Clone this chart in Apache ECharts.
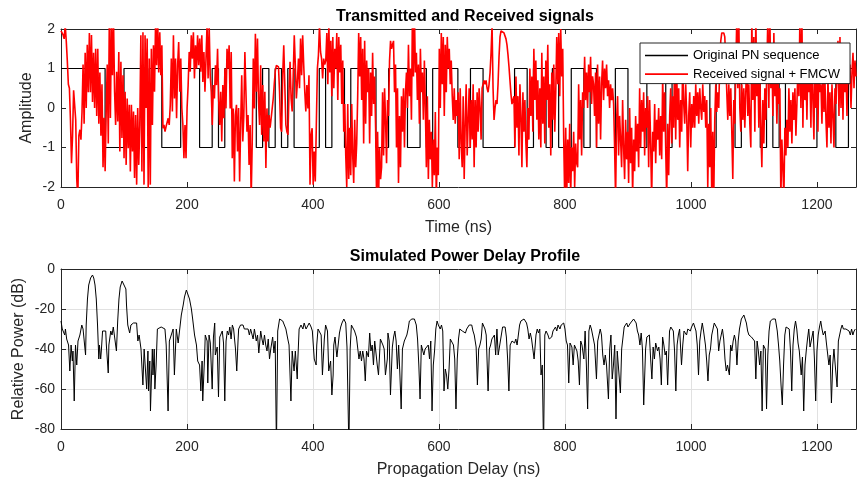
<!DOCTYPE html>
<html><head><meta charset="utf-8">
<script src="https://cdn.jsdelivr.net/npm/echarts@6/dist/echarts.min.js"></script>
<style>html,body{margin:0;padding:0;background:#fff}#c{width:859px;height:479px}</style>
</head><body><div id="c"></div><script>
// ---------------- data ----------------
const T_MAX = 1262;
const xTicks = [0, 200, 400, 600, 800, 1000, 1200];
const ampTicks = [-2, -1, 0, 1, 2];
const dbTicks = [-80, -60, -40, -20, 0];

// PN sequence: switching instants (ns) and the level held in each interval
const pnTimes = [0,70,100,130,140,160,190,220,240,250,260,310,320,330,340,350,360,370,410,420,
  430,450,460,500,520,550,570,580,590,630,650,670,720,740,750,770,780,790,810,830,
  840,850,880,900,930,960,970,1030,1040,1070,1080,1110,1120,1130,1140,1150,1200,1230,1250,1262];
const pnLevels = [1,-1,1,-1,1,-1,1,-1,1,-1,1,-1,1,-1,1,-1,1,-1,1,-1,
  1,-1,1,-1,1,-1,1,-1,1,-1,1,-1,1,-1,1,-1,1,-1,1,-1,
  1,-1,1,-1,1,-1,1,-1,1,-1,1,-1,1,-1,1,-1,1,-1,1];

// received signal, read in three stretches (values sampled evenly over each stretch)
const redSpans = [[0, 422], [422, 847], [847, 1262]];
const redSeg1 = [1.95,1.92,1.85,1.75,2.1,1.7,1.2,0.6,0.5,-0.3,-1.4,-0.7,0.45,0.4,-0.3,-1.8,-2.3,-0.7,-0.55,-0.8,-0.1,1.1,-0.4,1.4,0,1.6,0.4,1.9,0.4,1.85,0.15,1.4,0,1.5,-0.2,1.5,-0.4,0.9,-0.7,0.6,-1.5,-0.25,-1.6,-0.1,1.1,-0.9,2.3,-0.25,2.3,0.83,2.2,0.41,-0.43,0.92,-0.34,1.42,-1.1,1.17,-0.76,0.83,-1.27,0.41,-1.44,0.24,-1.02,0.08,-1.61,0.08,-1.1,-0.09,-1.77,-0.18,-1.94,0,-1.44,-0.43,1.84,-1.61,1.92,-1.94,1.84,0,1.76,-2.1,1.25,-1.94,1.5,-0.43,1.59,0.41,2.2,1.08,2.2,0.9,1.92,0.83,1.59,-0.51,-0.43,-0.6,-0.47,-0.51,-0.26,-0.43,0.08,1.25,-0.09,1.84,0.24,1.25,-0.26,1.08,1.67,0.41,1.25,0,-0.43,-1.27,-0.43,-1.27,0,0.58,1.42,0.92,1.84,1.25,1.92,0.75,1.59,1.0,1.84,1.08,1.76,0.92,1.84,0.66,1.42,0.41,1.25,2.1,0.75,2.1,0.83,0.41,-0.43,0.58,0.24,1.08,0.58,1.5,0.24,-0.43,0.41,-0.85,0.58,-0.26,1.0,-0.01,1.5,1.0,1.59,-0.01,1.42,-1.27,-0.01,-1.86,-0.18,0.08,-1.1,0.0,-1.86,-0.43,0.83,-0.85,-0.18,1.42,0.41,-0.6,-0.18,-1.44,-0.43,-2.3,-0.85,1.25,-0.01,1.88,0.41,1.76,0.16,-0.43,1.08,-0.68,0.58,-0.85,0.41,-1.52,-0.01,-0.85,-0.18,-0.5,-0.26,-0.3,0.24,0.62,0.95,1.08,1.1,1.04,0.41,-0.51,-0.6,0.83,1.59,0.58,-0.43,-0.6,-0.68,0.41,1.17,0.24,-0.09,0.83,1.84,1.08,0.24,0.66,1.25,0.5,1.76,0.83,1.84,1.08,0.41,-0.09,0.58,-0.01,0.83,-1.94,-0.68,-0.51,-1.94,-1.1,-1.86,-0.43,1.0,1.34,2.1,1.42,1.25,0.75,1.25,1.1,1.2];
const redSeg2 = [1.9,0.6,2.1,0.9,1.7,0.3,1.8,0.5,1.5,1.0,1.9,0.2,1.8,0.9,1.6,0.1,1.2,-0.6,0.1,-1.2,
  -2.0,0.1,-1.8,-0.5,-1.7,0.1,-1.2,-1.9,-0.3,-1.5,-0.9,0.3,
  1.9,0.8,1.8,0.2,1.5,
  -0.9,1.7,-0.4,1.2,0.4,1.0,-0.9,0.9,-0.2,1.4,0.1,0.8,-0.5,
  -2.3,-0.6,-2.3,-1.0,-1.8,
  -1.5,0.4,-1.2,0.5,-0.3,-1.4,0.2,-0.2,
  1.2,1.7,1.5,1.6,1.7,0.4,1.1,
  -1.0,0.5,-1.9,-0.2,-1.5,0.3,-0.6,0.5,-1.0,0.4,
  0.9,0.0,1.6,0.3,1.0,-0.3,2.4,0.8,2.4,0.9,1.4,0.2,1.1,
  -0.4,1.5,0.4,0.9,-0.3,1.2,0.0,
  -1.5,0.3,-1.8,-0.3,-1.3,-0.6,-2.0,-0.8,-1.7,-0.1,-2.3,-1.0,-1.7,
  1.5,0.0,1.9,0.6,1.8,-0.2,1.6,0.4,1.8,1.0,1.5,0.6,1.2,
  0.3,-0.3,0.5,-0.4,0.2,-0.2,0.4,
  -1.3,0.5,-0.9,-1.5,0.3,-1.8,-0.4,0.6,-1.2,-0.3,0.5,-1.0,0.2,
  -0.8,0.6,-1.5,0.2,-1.0,0.4,-0.6,0.5,0.0,-0.8,0.5,0.6,0.7,
  0.6,0.7,0.5,0.4,0.6,0.9,1.4,2.1,
  0.5,-0.3,0.0,0.2,0.1,0.6,1.3,1.8,1.95,1.97,1.95,1.9,1.85,1.75,1.6,1.35,1.05,0.7,0.35,0.1,0.05,0.3,
  -1.0,0.8,-0.5,0.3,-1.2,0.6,-0.2,-1.5,0.4,-0.6,0.2,-0.9,-1.5,
  0.0,-0.8,1.0,-0.2,0.8,-0.6,1.5,0.2,1.2,-0.3,0.7,-0.8,0.5,
  -1.0,1.4,-0.4,0.8,-0.9,1.2,0.2,1.6,-0.5,0.6,-1.2,0.9,-0.3,1.1,-0.6,0.4,1.8,
  0.6,1.9,0.3,2.0,0.8,1.5,-0.8,
  -2.3,-0.5,-2.3,-0.8,-1.9,-0.4,-2.2,-1.0,-1.6,-0.6,-2.0,-0.9,-1.4,
  -1.5,0.6,-0.8,0.2,-1.2,0.4,0.0,
  1.3,0.2,0.9,0.0,1.1,0.4,1.3,0.1,0.8,0.6];
const redSeg3 = [-0.2,0.9,-1.0,1.1,-0.4,0.8,-0.8,0.6,1.2,0.2,
  1.0,0.5,1.1,
  0.3,0.7,0.0,0.6,0.2,0.5,0.1,
  -1.0,-2.3,-0.3,0.3,-1.2,-0.2,-0.8,
  -1.5,0.2,-1.0,-1.8,-0.3,-1.3,-0.6,-1.9,0.0,-1.4,-0.5,-2.2,-0.8,-1.6,-0.2,-1.1,-0.4,
  -1.5,0.5,-1.0,0.2,-0.6,0.4,-1.2,0.0,-0.5,0.3,
  -1.5,0.2,-0.9,-2.3,-0.6,-1.1,0.1,-1.4,-0.3,-0.8,0.0,-1.2,-0.2,
  -1.3,0.8,-0.6,0.4,-1.0,-2.3,-0.4,-1.7,-0.2,0.5,-0.9,0.3,-0.5,
  1.5,-0.8,0.9,-0.3,0.5,-1.0,0.2,-0.6,1.2,0.1,-0.4,0.6,-0.2,
  -1.6,-0.2,0.4,-1.0,0.1,-0.5,0.3,
  -0.5,0.6,-0.2,0.4,-0.4,0.5,0.0,-0.3,0.6,-0.1,0.3,-0.5,0.2,
  -2.0,-0.4,-1.5,0.0,-2.3,-0.6,-2.3,
  -0.3,0.6,-0.1,0.4,0.0,1.2,1.7,1.9,
  1.95,1.9,1.8,1.2,0.4,-0.3,0.6,-0.2,
  0.5,-0.6,-1.8,0.2,-0.4,1.0,2.3,0.5,2.3,0.0,
  -0.6,0.6,-0.3,0.5,-0.5,0.4,1.5,-0.2,0.6,-0.4,
  -1.0,2.3,0.2,1.8,-0.6,2.3,0.3,1.2,-0.5,0.8,
  -0.5,-1.5,0.2,-0.9,0.5,-0.3,1.0,
  2.3,0.0,2.3,0.5,1.5,-0.2,1.9,0.3,1.0,-0.4,0.8,0.1,0.5,
  -2.3,-0.8,-1.5,-2.3,-0.5,-1.2,-0.3,
  -1.0,0.5,-0.6,0.2,-0.9,0.4,-0.3,0.5,-0.7,0.1,1.0,0.3,2.3,
  0.0,2.3,-0.5,1.5,0.2,1.0,-0.3,1.2,0.4,0.8,-0.5,1.4,0.2,
  -0.8,1.5,0.0,0.9,-0.6,1.2,0.4,0.6,-0.4,1.0,-0.1,0.7,-0.3,
  -1.0,0.8,-0.5,0.4,-0.9,0.6,-0.2,-1.0,0.5,0.1,0.9,1.7,-0.2,
  1.8,0.0,1.2,-0.3,1.6,0.4,1.0,-0.2,1.3,0.6,1.1,0.0,0.9,1.4,0.5,1.2,0.8];

// power delay profile: [delay ns, relative power dB]
const pdpProfile = [[0,-26],[2,-30],[4,-31],[5,-30],[6,-33],[7,-30],[9,-35],[10,-35],[12,-38],[14,-51],[16,-38],[18,-46],[19,-41],[21,-66],[23,-38],[25,-48],[27,-36],[30,-33],[33,-28],[35,-30],[38,-31],[39,-43],[40,-28],[42,-15],[44,-8],[47,-4.5],[50,-3],[52,-4.5],[54,-8],[56,-15],[58,-28],[60,-45],[61,-38],[63,-45],[64,-41],[66,-31],[68,-30],[71,-31],[72,-38],[75,-52],[76,-38],[79,-31],[81,-33],[83,-29],[85,-30],[88,-41],[90,-26],[92,-15],[94,-9],[97,-6],[100,-7],[103,-10],[104,-18],[106,-28],[109,-32],[111,-28],[113,-29],[115,-27],[117,-28],[120,-27],[122,-36],[124,-33],[127,-40],[129,-39],[130,-58],[132,-40],[134,-40],[136,-60],[138,-41],[139,-61],[141,-46],[142,-71],[145,-40],[146,-53],[148,-40],[149,-60],[151,-48],[153,-30],[156,-29],[159,-29],[162,-28],[165,-30],[167,-38],[170,-71],[172,-36],[175,-37],[178,-30],[180,-53],[183,-30],[186,-37],[188,-38],[191,-23],[194,-18],[196,-14],[199,-10.5],[202,-11],[204,-15],[207,-20],[209,-25],[212,-33],[215,-38],[217,-46],[220,-48],[222,-61],[224,-46],[225,-66],[228,-43],[229,-33],[232,-36],[233,-57],[235,-33],[237,-37],[240,-60],[242,-34],[244,-27],[245,-43],[248,-39],[250,-64],[252,-34],[254,-35],[256,-31],[258,-37],[260,-66],[262,-36],[264,-31],[266,-33],[268,-29],[270,-35],[272,-28],[274,-30],[277,-40],[279,-51],[281,-36],[282,-30],[285,-28],[287,-29],[289,-28],[291,-30],[294,-30],[297,-30],[299,-33],[301,-30],[303,-31],[305,-35],[307,-30],[310,-36],[312,-33],[314,-42],[317,-31],[319,-35],[321,-38],[323,-33],[325,-38],[327,-41],[329,-35],[331,-45],[333,-40],[336,-34],[338,-42],[340,-36],[342,-90],[344,-31],[347,-25],[349,-25],[352,-26],[355,-27],[357,-30],[360,-35],[362,-38],[365,-66],[367,-41],[369,-48],[370,-51],[372,-41],[375,-55],[376,-45],[378,-30],[381,-28],[384,-30],[386,-27],[389,-30],[391,-29],[394,-27],[397,-29],[399,-31],[402,-45],[405,-48],[406,-38],[408,-30],[411,-31],[413,-33],[415,-53],[418,-35],[420,-28],
[423,-31],[425,-51],[428,-46],[430,-63],[432,-53],[433,-38],[435,-34],[437,-41],[438,-44],[440,-43],[442,-32],[444,-29],[446,-27],[449,-25],[452,-27],[454,-39],[457,-90],[459,-40],[461,-28],[463,-29],[466,-31],[469,-34],[471,-35],[473,-45],[475,-41],[477,-46],[479,-41],[481,-45],[483,-56],[485,-41],[488,-44],[490,-32],[492,-41],[494,-38],[496,-48],[498,-36],[500,-42],[502,-48],[504,-53],[507,-35],[509,-36],[511,-38],[513,-40],[515,-53],[518,-45],[519,-32],[521,-36],[523,-63],[526,-39],[528,-34],[530,-31],[532,-36],[534,-50],[536,-38],[538,-53],[540,-70],[542,-40],[545,-36],[547,-35],[549,-33],[551,-30],[553,-26],[555,-25],[557,-25],[559,-24],[561,-25],[564,-28],[566,-35],[568,-48],[570,-65],[572,-38],[574,-37],[576,-43],[578,-40],[580,-41],[583,-38],[585,-45],[587,-36],[589,-71],[591,-48],[593,-41],[595,-30],[597,-26],[599,-28],[602,-30],[604,-28],[606,-31],[608,-61],[610,-50],[612,-53],[614,-60],[616,-50],[618,-35],[621,-36],[623,-38],[625,-45],[627,-70],[629,-45],[631,-35],[633,-30],[635,-29],[637,-31],[640,-30],[642,-32],[644,-30],[646,-29],[648,-28],[650,-27],[652,-28],[654,-31],[656,-33],[659,-39],[661,-58],[663,-40],[665,-38],[667,-35],[669,-27],[671,-28],[673,-30],[675,-33],[678,-61],[680,-40],[682,-38],[684,-35],[686,-36],[688,-33],[690,-43],[692,-30],[694,-43],[697,-37],[699,-33],[701,-29],[703,-28],[705,-29],[707,-34],[709,-45],[711,-61],[713,-38],[716,-36],[718,-35],[720,-37],[722,-35],[724,-38],[726,-33],[728,-28],[730,-26],[732,-25],[735,-25],[737,-25],[739,-27],[741,-30],[743,-35],[745,-32],[747,-35],[749,-35],[751,-45],[754,-33],[756,-30],[758,-32],[760,-30],[762,-53],[764,-48],[766,-90],[768,-33],[770,-31],[773,-33],[775,-35],[777,-36],[779,-34],[781,-31],[783,-30],[785,-29],[787,-31],[789,-28],[792,-30],[794,-28],[796,-27],[798,-27],[800,-30],[802,-36],[804,-38],[806,-57],[808,-37],[811,-39],[813,-48],[815,-38],[817,-37],[819,-41],[821,-46],[823,-58],[825,-36],[827,-38],[830,-45],[832,-31],[834,-48],[836,-70],[838,-31],[840,-28],[842,-30],
[844,-31],[847,-38],[850,-55],[852,-36],[854,-33],[856,-30],[858,-33],[860,-43],[862,-48],[864,-43],[866,-48],[869,-65],[871,-40],[873,-33],[875,-55],[877,-48],[879,-38],[881,-75],[883,-41],[885,-40],[888,-62],[890,-40],[892,-39],[894,-29],[896,-28],[898,-27],[900,-29],[902,-30],[904,-27],[906,-26],[909,-25],[911,-25],[913,-27],[915,-31],[917,-33],[919,-38],[921,-32],[923,-40],[925,-68],[928,-40],[930,-34],[932,-35],[934,-33],[936,-45],[938,-55],[940,-39],[942,-45],[944,-37],[947,-41],[949,-39],[951,-45],[953,-58],[955,-34],[957,-38],[959,-43],[961,-41],[963,-58],[966,-31],[968,-29],[970,-30],[972,-31],[974,-41],[976,-61],[978,-38],[980,-33],[982,-30],[985,-48],[987,-38],[989,-31],[991,-30],[993,-33],[995,-30],[997,-29],[999,-31],[1001,-29],[1004,-27],[1006,-28],[1008,-31],[1010,-38],[1012,-53],[1014,-36],[1016,-31],[1018,-27],[1020,-31],[1023,-38],[1025,-46],[1027,-56],[1029,-43],[1031,-40],[1033,-33],[1035,-30],[1037,-27],[1039,-28],[1042,-30],[1044,-41],[1046,-36],[1048,-33],[1050,-30],[1052,-35],[1054,-45],[1056,-51],[1058,-48],[1061,-53],[1063,-38],[1065,-41],[1067,-36],[1069,-33],[1071,-36],[1073,-48],[1075,-36],[1077,-30],[1080,-25],[1082,-24],[1084,-23],[1086,-24],[1088,-27],[1090,-31],[1092,-33],[1094,-32],[1096,-34],[1099,-33],[1101,-36],[1103,-55],[1105,-36],[1107,-41],[1109,-48],[1111,-41],[1113,-71],[1115,-38],[1118,-40],[1120,-70],[1122,-43],[1124,-31],[1126,-26],[1128,-25],[1130,-25],[1132,-24],[1134,-25],[1137,-31],[1139,-38],[1141,-46],[1143,-58],[1145,-68],[1147,-48],[1149,-33],[1151,-29],[1153,-28],[1156,-30],[1158,-41],[1160,-61],[1162,-38],[1164,-30],[1166,-26],[1168,-30],[1170,-37],[1172,-41],[1175,-53],[1177,-44],[1179,-71],[1181,-48],[1183,-41],[1185,-35],[1187,-30],[1189,-39],[1191,-40],[1194,-31],[1196,-45],[1198,-66],[1200,-41],[1202,-33],[1204,-29],[1206,-26],[1208,-30],[1210,-33],[1213,-31],[1215,-37],[1217,-38],[1219,-48],[1221,-43],[1223,-67],[1225,-48],[1227,-40],[1229,-48],[1232,-59],[1234,-36],[1236,-33],[1238,-30],[1240,-28],[1242,-30],[1244,-29],[1246,-30],[1248,-30],[1251,-31],[1253,-33],[1255,-30],[1257,-33],[1259,-31],[1261,-30]];

// ---------------- build series data ----------------
const pnData = [];
for (let i = 0; i < pnLevels.length; i++) {
  pnData.push([pnTimes[i], pnLevels[i]], [pnTimes[i + 1], pnLevels[i]]);
}
const redData = [];
[redSeg1, redSeg2, redSeg3].forEach((seg, s) => {
  const [a, b] = redSpans[s];
  const last = s === 2;
  const n = last ? seg.length - 1 : seg.length;
  seg.forEach((v, k) => redData.push([a + (b - a) * k / n, v]));
});

// ---------------- chart ----------------
const FONT = '"Liberation Sans", Arial, Helvetica, sans-serif';
const AX = '#262626';
const GRIDC = '#e1e1e1';
const tick = { show: true, inside: true, length: 5, lineStyle: { color: AX, width: 1 } };
const aline = { show: true, onZero: false, lineStyle: { color: AX, width: 1 } };

function xPair(gi, name, grid) {
  return [
    { type: 'value', gridIndex: gi, position: 'bottom', min: 0, max: T_MAX, interval: 200,
      name: name, nameLocation: 'middle', nameGap: 33,
      nameTextStyle: { fontFamily: FONT, fontSize: 16, color: AX },
      axisLine: aline, axisTick: tick,
      axisLabel: { margin: 11, fontFamily: FONT, fontSize: 14, color: AX,
        formatter: v => xTicks.includes(v) ? String(v) : '' },
      splitLine: { show: grid, lineStyle: { color: GRIDC, width: 1 } } },
    { type: 'value', gridIndex: gi, position: 'top', min: 0, max: T_MAX, interval: 200,
      axisLine: aline, axisTick: tick, axisLabel: { show: false }, splitLine: { show: false } }
  ];
}
function yPair(gi, name, ticks, gap, grid) {
  const mn = ticks[0], mx = ticks[ticks.length - 1], iv = ticks[1] - ticks[0];
  return [
    { type: 'value', gridIndex: gi, position: 'left', min: mn, max: mx, interval: iv,
      name: name, nameLocation: 'middle', nameGap: gap, nameMoveOverlap: false,
      nameTextStyle: { fontFamily: FONT, fontSize: 16, color: AX },
      axisLine: aline, axisTick: tick,
      axisLabel: { margin: 6, fontFamily: FONT, fontSize: 14, color: AX },
      splitLine: { show: grid, lineStyle: { color: GRIDC, width: 1 } } },
    { type: 'value', gridIndex: gi, position: 'right', min: mn, max: mx, interval: iv,
      axisLine: aline, axisTick: tick, axisLabel: { show: false }, splitLine: { show: false } }
  ];
}

const chart = echarts.init(document.getElementById('c'), null, { renderer: 'canvas' });
chart.setOption({
  animation: false,
  backgroundColor: '#fff',
  title: [
    { text: 'Transmitted and Received signals', left: 460, top: 4, textAlign: 'center',
      textStyle: { fontFamily: FONT, fontSize: 16, fontWeight: 'bold', color: '#000' } },
    { text: 'Simulated Power Delay Profile', left: 460, top: 244, textAlign: 'center',
      textStyle: { fontFamily: FONT, fontSize: 16, fontWeight: 'bold', color: '#000' } }
  ],
  legend: {
    data: ['Original PN sequence', 'Received signal + FMCW'],
    orient: 'vertical', left: 640, top: 43, icon: 'rect',
    padding: [6, 10, 3, 5], itemGap: 5.6, itemWidth: 43, itemHeight: 1.6,
    backgroundColor: '#fff', borderColor: AX, borderWidth: 1, borderRadius: 0,
    textStyle: { fontFamily: FONT, fontSize: 13, color: '#000', lineHeight: 13 }
  },
  grid: [
    { left: 61, top: 29, width: 797, height: 158 },
    { left: 61, top: 269, width: 797, height: 160 }
  ],
  xAxis: [...xPair(0, 'Time (ns)', false), ...xPair(1, 'Propagation Delay (ns)', true)],
  yAxis: [...yPair(0, 'Amplitude', ampTicks, 26, false), ...yPair(1, 'Relative Power (dB)', dbTicks, 34, true)],
  series: [
    { name: 'Original PN sequence', type: 'line', xAxisIndex: 0, yAxisIndex: 0,
      data: pnData, symbol: 'none', lineStyle: { color: '#000', width: 1.2 }, itemStyle: { color: '#000' } },
    { name: 'Received signal + FMCW', type: 'line', xAxisIndex: 0, yAxisIndex: 0,
      data: redData, symbol: 'none', lineStyle: { color: '#ff0000', width: 1.6 }, itemStyle: { color: '#ff0000' } },
    { name: 'PDP', type: 'line', xAxisIndex: 2, yAxisIndex: 2,
      data: pdpProfile, symbol: 'none', lineStyle: { color: '#000', width: 1 }, itemStyle: { color: '#000' } }
  ]
});
</script></body></html>
